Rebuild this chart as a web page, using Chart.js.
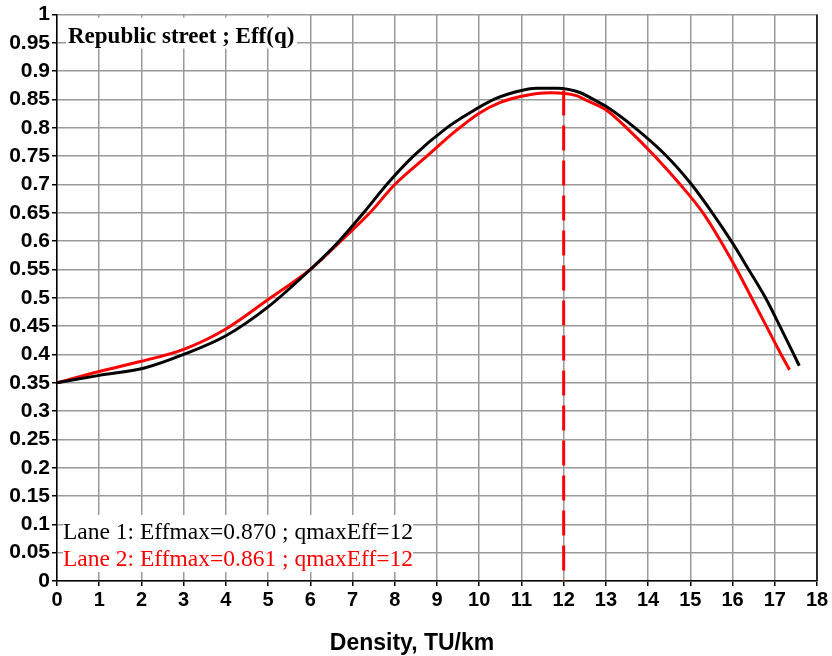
<!DOCTYPE html>
<html>
<head>
<meta charset="utf-8">
<script src="https://cdn.jsdelivr.net/npm/chart.js@4/dist/chart.umd.min.js"></script>
<style>
  html, body { margin: 0; padding: 0; background: #fff; }
  #wrap { width: 832px; height: 656px; position: relative; }
</style>
</head>
<body>
<div id="wrap"><canvas id="c" width="832" height="656"></canvas></div>
<script>
// ---- Data ----
const lane1X = [0, 1, 2.07, 3, 4, 5, 6, 6.68, 7.26, 7.81, 8.44, 9.23, 9.74, 10.4, 11, 11.35, 11.85, 12.4, 12.66, 13, 13.69, 14.44, 15.03, 15.52, 15.97, 16.38, 16.78, 17.12, 17.45, 17.58];
const lane1Y = [0.35, 0.363, 0.376, 0.40, 0.433, 0.484, 0.55, 0.60, 0.65, 0.70, 0.75, 0.80, 0.825, 0.852, 0.866, 0.870, 0.870, 0.862, 0.852, 0.838, 0.80, 0.75, 0.70, 0.65, 0.60, 0.55, 0.50, 0.45, 0.40, 0.38];
const lane2X = [0, 1, 2, 3, 4, 5, 6, 6.72, 7.41, 8.0, 8.76, 9.45, 10, 10.5, 11, 11.7, 12.3, 12.5, 13, 13.49, 14.16, 14.76, 15.3, 15.72, 16.1, 16.45, 16.8, 17.15, 17.35];
const lane2Y = [0.35, 0.37, 0.388, 0.409, 0.445, 0.497, 0.55, 0.60, 0.65, 0.70, 0.75, 0.795, 0.826, 0.845, 0.856, 0.862, 0.857, 0.85, 0.832, 0.80, 0.75, 0.70, 0.65, 0.60, 0.55, 0.50, 0.45, 0.40, 0.373];
const markerX = [12, 12];
const markerY = [0.866, 0];
const chartTitle = "Republic street ; Eff(q)";
const legendLines = ["Lane 1: Effmax=0.870 ; qmaxEff=12", "Lane 2: Effmax=0.861 ; qmaxEff=12"];
const xAxisTitle = "Density, TU/km";

const toPts = (xs, ys) => xs.map((x, i) => ({ x: x, y: ys[i] }));

const overlay = {
  id: 'overlay',
  afterDraw(chart) {
    const ctx = chart.ctx;
    const a = chart.chartArea;
    ctx.save();
    // right border
    ctx.strokeStyle = '#000';
    ctx.lineWidth = 1.5;
    ctx.beginPath();
    ctx.moveTo(a.right, a.top);
    ctx.lineTo(a.right, a.bottom);
    ctx.stroke();
    // title box
    ctx.fillStyle = '#fff';
    ctx.fillRect(a.left + 9, a.top + 3, 231, 31);
    ctx.fillStyle = '#000';
    ctx.font = 'bold 23px "Liberation Serif", "Times New Roman", serif';
    ctx.textBaseline = 'alphabetic';
    ctx.textAlign = 'left';
    ctx.fillText(chartTitle, a.left + 11, a.top + 28);
    // legend box
    ctx.fillStyle = '#fff';
    ctx.fillRect(a.left + 6, a.bottom - 66, 350, 57);
    ctx.font = '23.5px "Liberation Serif", "Times New Roman", serif';
    ctx.fillStyle = '#000';
    ctx.fillText(legendLines[0], a.left + 6, a.bottom - 42);
    ctx.fillStyle = '#ff0000';
    ctx.fillText(legendLines[1], a.left + 6, a.bottom - 15);
    // x axis title
    ctx.fillStyle = '#000';
    ctx.font = 'bold 23px "Liberation Sans", Arial, sans-serif';
    ctx.textAlign = 'center';
    ctx.fillText(xAxisTitle, 412, 650);
    ctx.restore();
  }
};

new Chart(document.getElementById('c'), {
  type: 'scatter',
  data: {
    datasets: [
      { data: toPts(markerX, markerY), showLine: true, borderColor: '#ff0000', borderWidth: 3, borderDash: [25, 10], pointRadius: 0, fill: false, order: 3 },
      { data: toPts(lane2X, lane2Y), showLine: true, borderColor: '#ff0000', borderWidth: 3, pointRadius: 0, cubicInterpolationMode: 'monotone', fill: false, order: 2 },
      { data: toPts(lane1X, lane1Y), showLine: true, borderColor: '#000000', borderWidth: 3, pointRadius: 0, cubicInterpolationMode: 'monotone', fill: false, order: 1 }
    ]
  },
  options: {
    responsive: false,
    animation: false,
    layout: { padding: { top: 14, right: 15, left: 0, bottom: 0 } },
    plugins: { legend: { display: false }, tooltip: { enabled: false } },
    scales: {
      x: {
        type: 'linear', min: 0, max: 18,
        afterFit: s => { s.height = 75; },
        ticks: { stepSize: 1, color: '#000', padding: 2, font: { family: '"Liberation Sans", Arial, sans-serif', size: 20, weight: 'bold' } },
        grid: { color: '#9a9a9a', lineWidth: 1.5, tickLength: 5, tickColor: '#000' },
        border: { color: '#000', width: 1.5 }
      },
      y: {
        type: 'linear', min: 0, max: 1,
        afterFit: s => { s.width = 57; },
        ticks: { stepSize: 0.05, color: '#000', padding: 2, font: { family: '"Liberation Sans", Arial, sans-serif', size: 21, weight: 'bold' },
          callback: v => String(Number(v.toFixed(2))) },
        grid: { color: '#9a9a9a', lineWidth: 1.5, tickLength: 5, tickColor: '#000' },
        border: { color: '#000', width: 1.5 }
      }
    }
  },
  plugins: [overlay]
});
</script>
</body>
</html>
